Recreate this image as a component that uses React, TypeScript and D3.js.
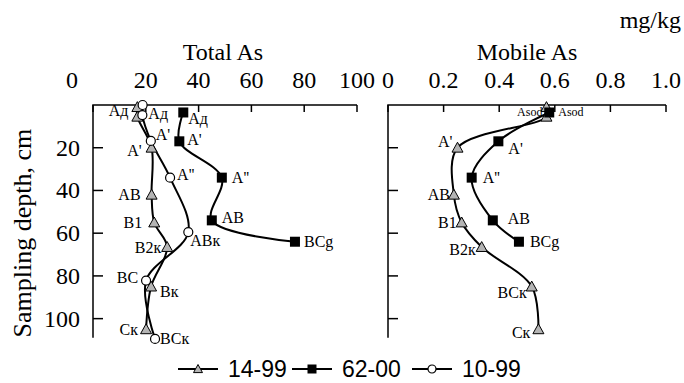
import React from 'react';
import * as d3 from 'd3';

// depth (cm) of each sample point, per profile
const depth1499 = [1, 5.5, 20, 42, 55, 66.5, 85, 105];
const depth6200 = [3.5, 17, 34, 54, 64];
const depth1099 = [0, 4.7, 16.8, 34, 59.5, 82.2, 109.5];

// Total As, mg/kg
const total1499 = [16.8, 16.8, 22.2, 22.2, 23.2, 28.1, 22, 20.1];
const total6200 = [34.2, 32.7, 48.8, 45, 76.5];
const total1099 = [18.8, 18.7, 21.9, 29.2, 36.1, 20.1, 23.5];

// Mobile As, mg/kg
const mobile1499 = [0.57, 0.57, 0.25, 0.237, 0.265, 0.337, 0.517, 0.541];
const mobile6200 = [0.58, 0.397, 0.301, 0.377, 0.471];

// horizon labels
const totalLabels1499 = ['Ад', '', "A'", 'AB', 'B1', 'В2к', 'Вк', 'Ск'];
const totalLabels6200 = ['Ад', "A'", "A''", 'AB', 'BCg'];
const totalLabels1099 = ['', 'Ад', "A'", "A''", 'АВк', 'BC', 'ВСк'];
const mobileLabels1499 = ['Asod', '', "A'", 'AB', 'B1', 'В2к', 'ВСк', 'Ск'];
const mobileLabels6200 = ['Asod', "A'", "A''", 'AB', 'BCg'];

const totalTicks = [0, 20, 40, 60, 80, 100];
const mobileTicks = [0, 0.2, 0.4, 0.6, 0.8, 1.0];
const depthTicks = [20, 40, 60, 80, 100];
const seriesNames = ['14-99', '62-00', '10-99'];

// label offsets [dx, dy] from the marker, negative dx = text to the left
const offTotal1499 = [[-9, 3], [0, 0], [-10, 3], [-11, 0], [-12, 0], [-6, 0], [9, 5], [-8, 0]];
const offTotal6200 = [[5, 6], [8, -2], [10, 0], [10, -3], [9, 0]];
const offTotal1099 = [[0, 0], [6, -2], [5, -6], [7, -3], [2, 8], [-8, -3], [5, 0]];
const offMobile1499 = [[-4, 5], [0, 0], [-5, -6], [-4, 0], [-5, 0], [-6, 2], [-5, 6], [-8, 3]];
const offMobile6200 = [[9, 0], [10, 7], [11, 0], [15, -2], [11, 0]];

const W = 684;
const H = 383;
const serif = 'Liberation Serif, Times New Roman, serif';
const sans = 'Liberation Sans, Arial, sans-serif';

const y = d3.scaleLinear().domain([0, 110]).range([105, 340]);
const xTotal = d3.scaleLinear().domain([0, 100]).range([93, 357]);
const xMobile = d3.scaleLinear().domain([0, 1]).range([388, 666]);

const line = (xs: number[], ds: number[], x: d3.ScaleLinear<number, number>) =>
  d3
    .line<number>()
    .x((v) => x(v))
    .y((_, i) => y(ds[i]))
    .curve(d3.curveCatmullRom.alpha(0.5))(xs) || '';

const T = ({
  x,
  y: ty,
  size = 24,
  anchor = 'middle',
  central = false,
  rotate = 0,
  family = serif,
  children,
}: {
  x: number;
  y: number;
  size?: number;
  anchor?: string;
  central?: boolean;
  rotate?: number;
  family?: string;
  children: React.ReactNode;
}) => (
  <text
    transform={`translate(${x},${ty}) rotate(${rotate})`}
    textAnchor={anchor}
    dominantBaseline={central ? 'central' : undefined}
    style={{ fontFamily: family, fontSize: size }}
  >
    {children}
  </text>
);

const Tri = ({ cx, cy, s = 5.5 }: { cx: number; cy: number; s?: number }) => (
  <path
    d={`M${cx},${cy - s}L${cx + s},${cy + s * 0.8}L${cx - s},${cy + s * 0.8}Z`}
    fill="#b4b4b4"
    stroke="#000"
    strokeWidth={1}
  />
);
const Sq = ({ cx, cy, s = 5 }: { cx: number; cy: number; s?: number }) => (
  <rect x={cx - s} y={cy - s} width={2 * s} height={2 * s} fill="#000" />
);
const Circ = ({ cx, cy, r = 4.5 }: { cx: number; cy: number; r?: number }) => (
  <circle cx={cx} cy={cy} r={r} fill="#fff" stroke="#000" strokeWidth={1.2} />
);

const Labels = ({
  xs,
  ds,
  labels,
  offs,
  x,
}: {
  xs: number[];
  ds: number[];
  labels: string[];
  offs: number[][];
  x: d3.ScaleLinear<number, number>;
}) => (
  <g>
    {labels.map((t, i) =>
      t ? (
        <text
          key={i}
          x={x(xs[i]) + offs[i][0]}
          y={y(ds[i]) + offs[i][1]}
          dominantBaseline="central"
          textAnchor={offs[i][0] < 0 ? 'end' : 'start'}
          style={{ fontFamily: serif, fontSize: t === 'Asod' ? 12 : 16 }}
        >
          {t}
        </text>
      ) : null
    )}
  </g>
);

const Frame = ({
  x,
  ticks,
  fmt,
  firstShift = 0,
}: {
  x: d3.ScaleLinear<number, number>;
  ticks: number[];
  fmt: (v: number) => string;
  firstShift?: number;
}) => {
  const [x0, x1] = x.range();
  return (
    <g>
      <path d={`M${x0},${y(109)}V${y(0)}H${x1}`} fill="none" stroke="#000" strokeWidth={1.5} />
      {ticks.map((t) => (
        <line key={t} x1={x(t)} x2={x(t)} y1={y(0)} y2={y(0) + 7} stroke="#000" strokeWidth={1.5} />
      ))}
      {depthTicks.map((d) => (
        <line key={d} x1={x0} x2={x0 + 10} y1={y(d)} y2={y(d)} stroke="#000" strokeWidth={1.5} />
      ))}
      {ticks.map((t, i) => (
        <T key={t} x={x(t) + (i === 0 ? firstShift : 0)} y={88}>
          {fmt(t)}
        </T>
      ))}
    </g>
  );
};

export default function App() {
  const lx = [178, 292, 412];
  return (
    <svg width={W} height={H} style={{ position: 'absolute', left: 0, top: 0, background: '#fff' }}>
      <rect width={W} height={H} fill="#fff" />
      <T x={681} y={28} anchor="end">
        mg/kg
      </T>
      <T x={223} y={60}>
        Total As
      </T>
      <T x={527} y={60}>
        Mobile As
      </T>
      <T x={31} y={y(60)} rotate={-90} size={26}>
        Sampling depth, cm
      </T>
      {depthTicks.map((d) => (
        <T key={d} x={80} y={y(d)} anchor="end" central>
          {d}
        </T>
      ))}

      <Frame x={xTotal} ticks={totalTicks} fmt={(v) => String(v)} firstShift={-21} />
      <Frame x={xMobile} ticks={mobileTicks} fmt={(v) => (v === 0 ? '0' : v.toFixed(1))} />

      <g fill="none" stroke="#000" strokeWidth={2}>
        <path d={line(total1499, depth1499, xTotal)} />
        <path d={line(total1099, depth1099, xTotal)} />
        <path d={line(total6200, depth6200, xTotal)} />
        <path d={line(mobile1499, depth1499, xMobile)} />
        <path d={line(mobile6200, depth6200, xMobile)} />
      </g>
      {total1499.map((v, i) => (
        <Tri key={'t' + i} cx={xTotal(v)} cy={y(depth1499[i])} />
      ))}
      {total6200.map((v, i) => (
        <Sq key={'s' + i} cx={xTotal(v)} cy={y(depth6200[i])} />
      ))}
      {total1099.map((v, i) => (
        <Circ key={'c' + i} cx={xTotal(v)} cy={y(depth1099[i])} />
      ))}
      {mobile1499.map((v, i) => (
        <Tri key={'mt' + i} cx={xMobile(v)} cy={y(depth1499[i])} />
      ))}
      {mobile6200.map((v, i) => (
        <Sq key={'ms' + i} cx={xMobile(v)} cy={y(depth6200[i])} />
      ))}

      <Labels xs={total1499} ds={depth1499} labels={totalLabels1499} offs={offTotal1499} x={xTotal} />
      <Labels xs={total6200} ds={depth6200} labels={totalLabels6200} offs={offTotal6200} x={xTotal} />
      <Labels xs={total1099} ds={depth1099} labels={totalLabels1099} offs={offTotal1099} x={xTotal} />
      <Labels xs={mobile1499} ds={depth1499} labels={mobileLabels1499} offs={offMobile1499} x={xMobile} />
      <Labels xs={mobile6200} ds={depth6200} labels={mobileLabels6200} offs={offMobile6200} x={xMobile} />

      {/* legend */}
      {seriesNames.map((n, i) => (
        <g key={n} transform={`translate(${lx[i]},369)`}>
          <line x1={0} x2={40} y1={0} y2={0} stroke="#000" strokeWidth={1.8} />
          {i === 0 && <Tri cx={20} cy={0} s={4.5} />}
          {i === 1 && <Sq cx={20} cy={0} s={4.5} />}
          {i === 2 && <Circ cx={20} cy={0} r={4} />}
          <T x={50} y={0} anchor="start" central size={23} family={sans}>
            {n}
          </T>
        </g>
      ))}
    </svg>
  );
}
